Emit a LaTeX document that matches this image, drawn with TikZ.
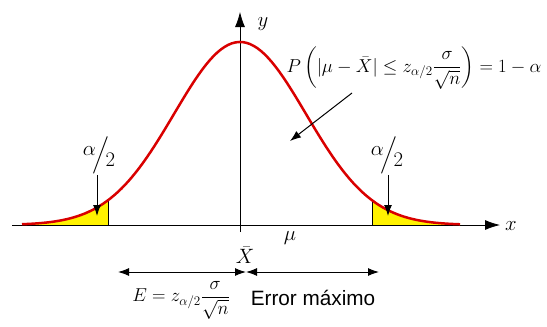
\RequirePackage{fix-cm}
\documentclass[tikz,border=0pt]{standalone}
\usepackage{amsmath}
\usepackage{fontspec}
\newfontfamily\errfont{Liberation Sans}
\usetikzlibrary{arrows.meta}

\begin{document}
\begin{tikzpicture}[x=1pt,y=-1pt,
  lbl/.style={font=\huge, inner sep=1pt},
  eqn/.style={font=\fontsize{18.7}{22}\selectfont, inner sep=1pt},
  tip/.style={-{Latex[length=11pt,width=8pt]}, line width=1pt},
  twotip/.style={{Latex[length=11pt,width=8pt]}-{Latex[length=11pt,width=8pt]}, line width=1pt},
  axis/.style={-{Latex[length=15pt,width=10pt]}, line width=0.8pt},
  bell/.style={red!85!black, line width=2.5pt},
]
\useasboundingbox (0,0) rectangle (547,327);
  \coordinate (xl) at (12,225);
  \coordinate (xr) at (500,225);
  \coordinate (yb) at (240,232);
  \coordinate (yt) at (240,12);
  \coordinate (lcb) at (108,225);
  \coordinate (lct) at (108,200.2);
  \coordinate (rcb) at (372,225);
  \coordinate (rct) at (372,200.2);
  \fill[yellow] (22,225) -- plot[domain=22:108,samples=40] (\x,{225-183*exp(-0.5*((\x-240)/66)^2)}) -- (lcb) -- cycle;
  \fill[yellow] (rcb) -- plot[domain=372:460,samples=40] (\x,{225-183*exp(-0.5*((\x-240)/66)^2)}) -- (460,225) -- cycle;
  \draw[line width=0.8pt] (lcb) -- (lct);
  \draw[line width=0.8pt] (rcb) -- (rct);
  \draw[axis] (xl) -- (xr);
  \draw[axis] (yb) -- (yt);
  \draw[bell] plot[domain=22:460,samples=120] (\x,{225-183*exp(-0.5*((\x-240)/66)^2)});
  \node[lbl] at (263,24) (ylab) {$y$};
  \node[lbl] at (511,226) (xlab) {$x$};
  \node[lbl] at (99,155) (lhalf) {$\raisebox{0.55ex}{$\alpha$}\!\Big/\!\raisebox{-0.7ex}{$2$}$};
  \node[lbl] at (387,155) (rhalf) {$\raisebox{0.55ex}{$\alpha$}\!\Big/\!\raisebox{-0.7ex}{$2$}$};
  \coordinate (lhit) at (97,216);
  \coordinate (rhit) at (388,216);
  \draw[tip] (lhalf.south -| lhit) -- (lhit);
  \draw[tip] (rhalf.south -| rhit) -- (rhit);
  \node[eqn] at (414,68) (prob) {$P\left(|\mu-\bar X|\le z_{\alpha/2}\dfrac{\sigma}{\sqrt n}\right)=1-\alpha$};
  \coordinate (pa) at (352,93);
  \coordinate (pb) at (290,141);
  \draw[tip] (pa) -- (pb);
  \node[lbl] at (245,255) (xbar) {$\bar X$};
  \node[lbl] at (290,238) (mu) {$\mu$};
  \coordinate (el) at (118,272);
  \coordinate (em) at (246,272);
  \coordinate (er) at (379,272);
  \draw[twotip] (el) -- (em);
  \draw[twotip] (em) -- (er);
  \node[eqn] at (181,300) (emax) {$E=z_{\alpha/2}\dfrac{\sigma}{\sqrt n}$};
  \node[lbl, font=\errfont\huge] at (313,298) (errtxt) {Error máximo};
\end{tikzpicture}
\end{document}
